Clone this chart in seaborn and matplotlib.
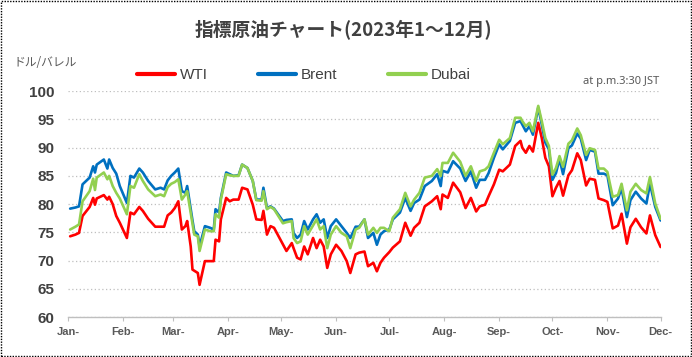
import matplotlib
matplotlib.use("Agg")
import matplotlib.pyplot as plt
import pandas as pd
import seaborn as sns
from matplotlib.patches import Rectangle
from matplotlib.lines import Line2D
from matplotlib.ticker import FixedLocator, FixedFormatter
import matplotlib.dates as mdates

dates = [
    "2023-01-02", "2023-01-05", "2023-01-07", "2023-01-09", "2023-01-13", "2023-01-15",
    "2023-01-16", "2023-01-17", "2023-01-21", "2023-01-23", "2023-01-24", "2023-01-26",
    "2023-01-28", "2023-01-30", "2023-02-03", "2023-02-05", "2023-02-07", "2023-02-10",
    "2023-02-12", "2023-02-15", "2023-02-19", "2023-02-22", "2023-02-24", "2023-02-26",
    "2023-02-28", "2023-03-02", "2023-03-04", "2023-03-06", "2023-03-08", "2023-03-09",
    "2023-03-11", "2023-03-12", "2023-03-13", "2023-03-15", "2023-03-16", "2023-03-19",
    "2023-03-22", "2023-03-24", "2023-03-25", "2023-03-27", "2023-03-28", "2023-03-31",
    "2023-04-02", "2023-04-04", "2023-04-07", "2023-04-09", "2023-04-12", "2023-04-15",
    "2023-04-17", "2023-04-20", "2023-04-21", "2023-04-23", "2023-04-25", "2023-04-27",
    "2023-05-02", "2023-05-04", "2023-05-07", "2023-05-08", "2023-05-10", "2023-05-12",
    "2023-05-14", "2023-05-16", "2023-05-19", "2023-05-21", "2023-05-23", "2023-05-25",
    "2023-05-27", "2023-05-29", "2023-06-01", "2023-06-04", "2023-06-07", "2023-06-09",
    "2023-06-12", "2023-06-14", "2023-06-17", "2023-06-19", "2023-06-22", "2023-06-24",
    "2023-06-26", "2023-06-28", "2023-07-01", "2023-07-03", "2023-07-07", "2023-07-10",
    "2023-07-13", "2023-07-15", "2023-07-18", "2023-07-21", "2023-07-25", "2023-07-28",
    "2023-07-30", "2023-07-31", "2023-08-03", "2023-08-06", "2023-08-10", "2023-08-13",
    "2023-08-16", "2023-08-19", "2023-08-21", "2023-08-24", "2023-08-26", "2023-08-29",
    "2023-09-01", "2023-09-03", "2023-09-07", "2023-09-10", "2023-09-13", "2023-09-14",
    "2023-09-16", "2023-09-18", "2023-09-20", "2023-09-23", "2023-09-25", "2023-09-27",
    "2023-09-29", "2023-10-01", "2023-10-03", "2023-10-05", "2023-10-07", "2023-10-10",
    "2023-10-12", "2023-10-15", "2023-10-17", "2023-10-20", "2023-10-22", "2023-10-25",
    "2023-10-27", "2023-10-30", "2023-11-01", "2023-11-04", "2023-11-07", "2023-11-09",
    "2023-11-12", "2023-11-14", "2023-11-17", "2023-11-20", "2023-11-23", "2023-11-25",
    "2023-11-28", "2023-12-01",
]

brent = [
    79.2, 79.4, 79.6, 83.5, 84.7, 86.7, 85.6, 87.0, 87.9, 86.3, 87.9, 86.4,
    85.4, 83.2, 80.2, 85.0, 84.7, 86.3, 85.6, 84.1, 82.6, 82.9, 82.6, 84.2,
    85.0, 85.6, 86.3, 82.3, 82.0, 83.2, 79.1, 77.1, 75.2, 74.6, 72.5, 76.1,
    75.8, 75.5, 79.1, 78.5, 81.1, 85.6, 85.3, 85.0, 85.1, 87.0, 86.4, 84.1,
    80.8, 80.8, 82.9, 79.3, 79.6, 79.2, 77.0, 77.2, 77.3, 74.9, 74.0, 74.6,
    77.0, 75.5, 77.3, 78.2, 76.7, 77.3, 74.0, 76.1, 77.3, 76.1, 74.9, 74.0,
    76.0, 76.0, 77.3, 74.0, 74.9, 72.8, 74.6, 75.2, 75.5, 77.3, 78.5, 81.1,
    78.8, 80.2, 80.8, 83.2, 84.1, 85.3, 83.2, 85.9, 85.6, 87.6, 86.3, 84.1,
    85.8, 82.9, 84.3, 84.3, 85.5, 88.2, 90.6, 89.7, 91.2, 94.4, 94.7, 94.1,
    92.9, 93.8, 92.3, 97.1, 94.1, 90.9, 89.7, 84.3, 85.5, 88.0, 85.3, 89.9,
    90.4, 92.5, 91.6, 87.8, 89.6, 89.3, 85.4, 85.4, 85.1, 79.8, 81.0, 82.8,
    77.7, 80.7, 82.2, 81.0, 80.1, 83.6, 79.5, 77.1,
]

dubai = [
    75.5, 76.0, 76.4, 80.5, 82.3, 84.5, 82.5, 84.7, 85.6, 84.4, 85.0, 83.2,
    82.0, 81.0, 78.2, 83.2, 82.9, 85.3, 84.1, 82.6, 81.4, 81.7, 81.4, 83.0,
    83.6, 83.9, 84.4, 80.8, 81.7, 82.3, 78.5, 76.6, 74.6, 74.3, 71.7, 75.5,
    75.2, 75.2, 78.2, 77.6, 80.8, 85.3, 85.1, 85.0, 85.0, 87.0, 86.4, 84.1,
    80.7, 80.6, 82.3, 79.1, 79.5, 79.1, 76.6, 76.8, 77.0, 74.0, 73.1, 73.4,
    76.1, 74.6, 76.2, 77.3, 75.5, 76.1, 72.2, 74.6, 76.1, 74.9, 74.3, 72.2,
    75.5, 75.8, 77.3, 74.6, 75.8, 74.9, 75.8, 75.8, 75.2, 77.6, 79.1, 82.0,
    79.6, 80.8, 82.0, 84.7, 85.0, 86.2, 85.0, 87.3, 87.3, 89.1, 87.5, 85.0,
    86.7, 84.1, 85.8, 86.1, 86.7, 89.1, 91.4, 90.6, 91.7, 95.3, 95.3, 94.7,
    93.8, 94.4, 92.9, 97.4, 94.7, 91.7, 90.3, 85.2, 86.4, 88.5, 86.6, 90.7,
    91.3, 93.4, 92.2, 88.7, 89.9, 89.6, 86.3, 86.3, 85.7, 81.3, 81.6, 83.6,
    78.9, 82.2, 83.6, 82.5, 81.9, 84.8, 80.1, 77.4,
]

wti = [
    74.3, 74.6, 74.9, 77.9, 79.5, 81.1, 79.9, 81.0, 81.6, 80.8, 81.3, 80.0,
    77.9, 76.7, 74.0, 78.5, 78.2, 79.5, 78.8, 77.4, 76.0, 76.0, 76.0, 78.0,
    78.5, 79.3, 80.5, 75.5, 76.1, 77.0, 72.5, 68.4, 68.2, 67.8, 65.7, 69.9,
    69.9, 69.9, 73.7, 73.4, 77.3, 81.1, 80.5, 80.8, 80.8, 82.9, 82.6, 79.9,
    77.3, 77.2, 78.8, 74.6, 76.1, 75.8, 72.9, 71.7, 73.1, 72.2, 70.5, 70.2,
    72.5, 71.1, 74.0, 72.2, 73.7, 72.5, 68.7, 71.1, 72.8, 71.7, 69.9, 67.8,
    71.1, 71.4, 71.6, 69.0, 69.6, 68.1, 69.6, 70.5, 71.5, 72.3, 73.4, 76.7,
    74.4, 75.8, 76.7, 79.6, 80.5, 81.4, 79.1, 81.7, 81.1, 83.8, 82.1, 79.3,
    81.1, 78.7, 79.6, 79.9, 81.4, 83.5, 86.1, 85.8, 87.0, 90.3, 91.2, 90.0,
    89.1, 90.3, 89.3, 94.4, 91.7, 88.2, 86.7, 81.4, 82.9, 84.1, 81.5, 85.1,
    86.0, 89.0, 87.8, 83.3, 84.5, 84.3, 81.0, 80.7, 80.4, 75.7, 76.2, 78.3,
    73.0, 75.9, 77.4, 75.9, 74.8, 78.0, 74.5, 72.4,
]

series_names = ["WTI", "Brent", "Dubai"]
series_colors = ["#FF0000", "#0070C0", "#92D050"]

month_ticks = [
    "2023-01-01", "2023-02-01", "2023-03-01", "2023-04-01", "2023-05-01", "2023-06-01",
    "2023-07-01", "2023-08-01", "2023-09-01", "2023-10-01", "2023-11-01", "2023-12-01",
]
month_labels = ["Jan-", "Feb-", "Mar-", "Apr-", "May-", "Jun-",
                "Jul-", "Aug-", "Sep-", "Oct-", "Nov-", "Dec-"]
y_ticks = [60, 65, 70, 75, 80, 85, 90, 95, 100]

title_text = "指標原油チャート(2023年1～12月)"
unit_text = "ドル/バレル"
note_text = "at p.m.3:30 JST"

df = pd.DataFrame({"date": pd.to_datetime(dates), "WTI": wti, "Brent": brent, "Dubai": dubai})
long_df = df.melt(id_vars="date", var_name="series", value_name="price")

sns.set_theme(style="white")
plt.rcParams["font.family"] = ["Liberation Sans", "Noto Sans CJK JP", "DejaVu Sans"]

fig = plt.figure(figsize=(6.92, 3.57), dpi=100)
fig.patch.set_facecolor("white")
ax = fig.add_axes([0.0988, 0.112, 0.8558, 0.6325])

sns.lineplot(data=long_df, x="date", y="price", hue="series", hue_order=series_names,
             palette=series_colors, linewidth=1.9, ax=ax, legend=False)

ax.set_xlim(pd.Timestamp("2023-01-01"), pd.Timestamp("2023-12-01"))
ax.set_ylim(60, 100)
ax.set_xlabel("")
ax.set_ylabel("")

tick_pos = [mdates.date2num(pd.Timestamp(t)) for t in month_ticks]
ax.xaxis.set_major_locator(FixedLocator(tick_pos))
ax.xaxis.set_major_formatter(FixedFormatter(month_labels))
ax.set_yticks(y_ticks)
ax.set_yticklabels([str(v) for v in y_ticks])

for lbl in ax.get_xticklabels():
    lbl.set_fontsize(8)
    lbl.set_fontweight("bold")
    lbl.set_color("#595959")
for lbl in ax.get_yticklabels():
    lbl.set_fontsize(11)
    lbl.set_fontweight("bold")
    lbl.set_color("#404040")

ax.tick_params(axis="x", direction="out", length=3, width=0.8, color="#BFBFBF", pad=4, bottom=True)
ax.tick_params(axis="y", length=0, pad=10)

ax.grid(axis="y", color="#BFBFBF", linestyle=(0, (1, 2)), linewidth=0.9)
ax.grid(axis="x", visible=False)
for side in ["top", "right", "left"]:
    ax.spines[side].set_visible(False)
ax.spines["bottom"].set_color("#BFBFBF")
ax.spines["bottom"].set_linewidth(1.0)
ax.set_facecolor("white")

handles = [Line2D([], [], color=c, linewidth=3) for c in series_colors]
fig.legend(handles, series_names, loc="center", bbox_to_anchor=(0.4386, 0.79), ncol=3,
           frameon=False, fontsize=11, handlelength=2.5, handletextpad=0.3,
           columnspacing=3.3, labelcolor="#404040")

fig.text(0.496, 0.916, title_text, ha="center", va="center", fontsize=13.5,
         fontweight="bold", color="#404040", family=["Noto Sans CJK JP", "DejaVu Sans"])
fig.text(13 / 692, 0.826, unit_text, ha="left", va="center", fontsize=8.5,
         color="#595959", family=["Noto Sans CJK JP", "DejaVu Sans"])
fig.text(659 / 692, 0.773, note_text, ha="right", va="center", fontsize=8,
         color="#595959", family=["Noto Sans", "DejaVu Sans"])

fig.patches.append(Rectangle((0.0008, 0.0015), 0.9984, 0.997, transform=fig.transFigure,
                             fill=False, edgecolor="black", linestyle=(0, (1, 1)), linewidth=1))

fig.savefig("out.png", dpi=100, facecolor="white")
